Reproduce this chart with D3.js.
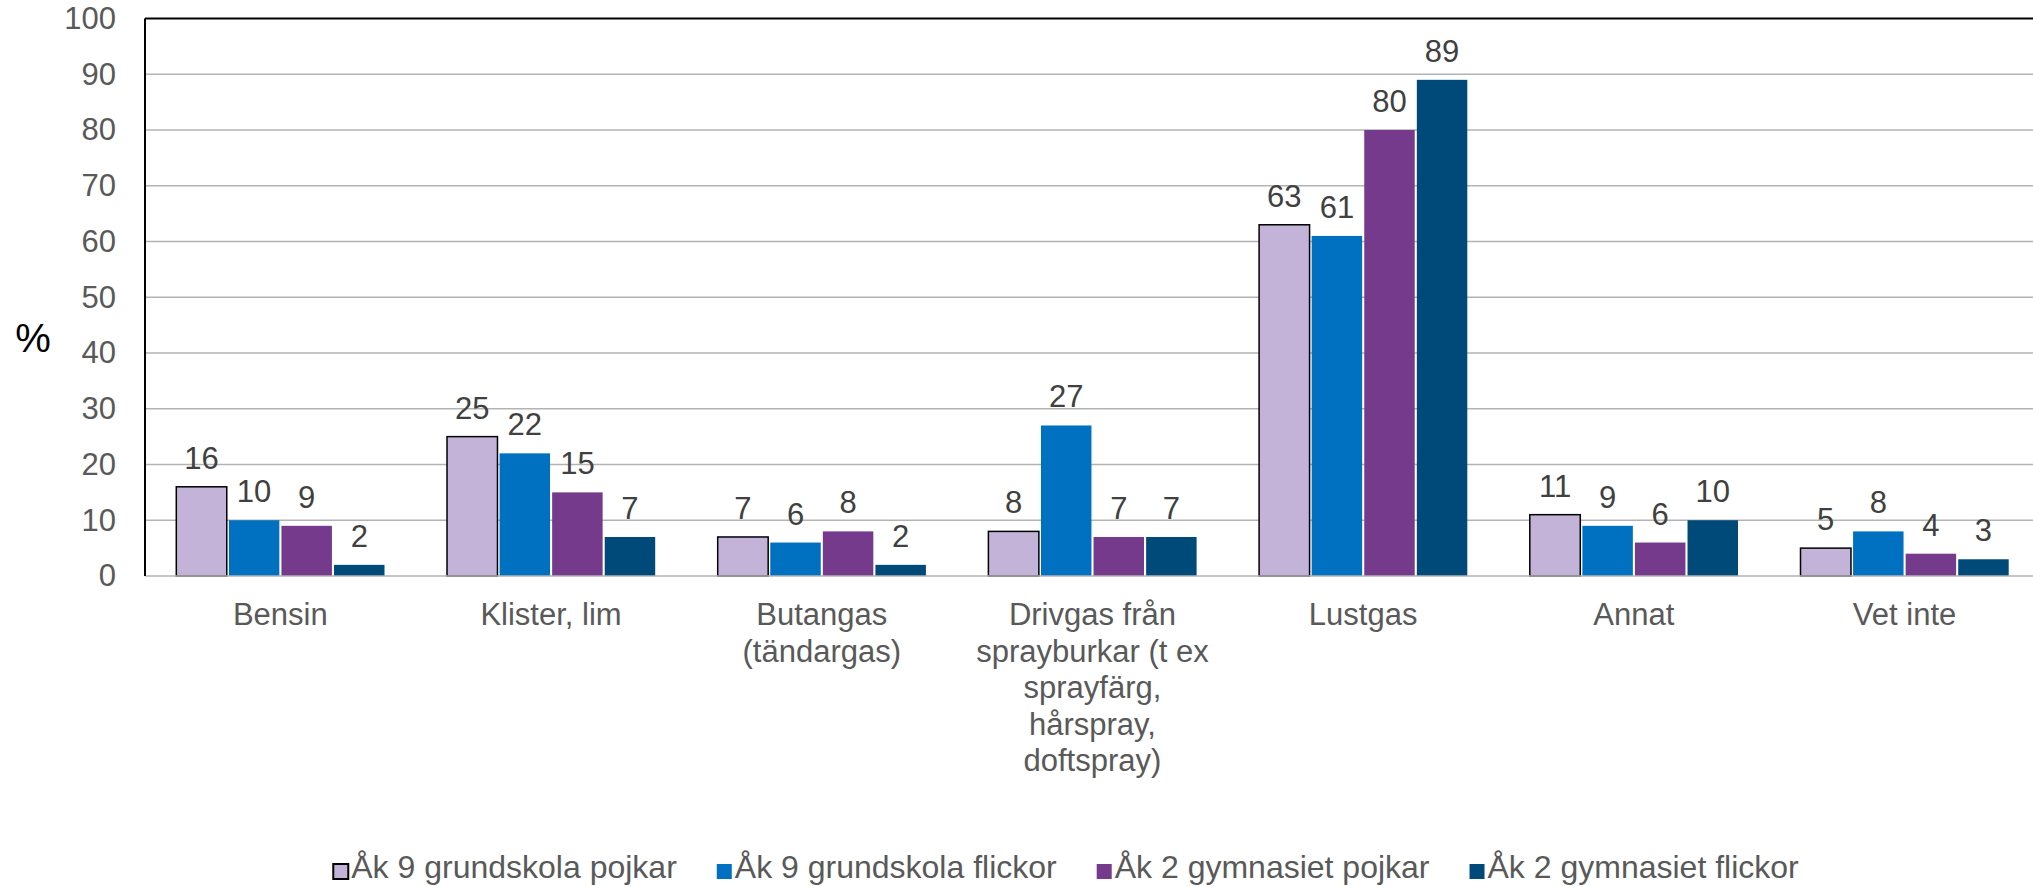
<!DOCTYPE html>
<html>
<head>
<meta charset="utf-8">
<script src="https://cdn.jsdelivr.net/npm/d3@7"></script>
<style>
  html, body { margin: 0; padding: 0; background: #fff; }
  svg { display: block; font-family: Arial, 'Liberation Sans', sans-serif; }
</style>
</head>
<body>
<svg id="chart" width="2033" height="886"></svg>
<script>
// DATA
const categories = ['Bensin', 'Klister, lim', 'Butangas\n(tändargas)',
  'Drivgas från\nsprayburkar (t ex\nsprayfärg,\nhårspray,\ndoftspray)',
  'Lustgas', 'Annat', 'Vet inte'];
const seriesNames = ['Åk 9 grundskola pojkar', 'Åk 9 grundskola flickor',
  'Åk 2 gymnasiet pojkar', 'Åk 2 gymnasiet flickor'];
const ak9Pojkar = [16, 25, 7, 8, 63, 11, 5];
const ak9Flickor = [10, 22, 6, 27, 61, 9, 8];
const ak2Pojkar = [9, 15, 8, 7, 80, 6, 4];
const ak2Flickor = [2, 7, 2, 7, 89, 10, 3];
const yTicks = [0, 10, 20, 30, 40, 50, 60, 70, 80, 90, 100];

const seriesValues = [ak9Pojkar, ak9Flickor, ak2Pojkar, ak2Flickor];
const colors = ['#C3B3D8', '#0070C0', '#763A8C', '#004A7A'];

// SETUP
const svg = d3.select('#chart');
const plotLeft = 145, plotTop = 18.5, plotBottom = 576, band = 270.7;
const fontSize = 31;

const x0 = d3.scaleBand().domain(categories).range([plotLeft, plotLeft + band * categories.length]);
const x1 = d3.scaleBand().domain(seriesNames).range([31.3, 239.5]).paddingInner(0.04);
const y = d3.scaleLinear().domain([0, 100]).range([plotBottom, plotTop]);

// GRID
const grid = svg.append('g');
grid.selectAll('line')
  .data(yTicks.filter(d => d > 0 && d < 100))
  .enter()
  .append('line')
  .attr('x1', plotLeft).attr('x2', 2033)
  .attr('y1', d => y(d)).attr('y2', d => y(d))
  .attr('stroke', '#B3B3B3').attr('stroke-width', 1.5);

// Y AXIS
const yAxis = svg.append('g')
  .attr('transform', 'translate(' + plotLeft + ',0)')
  .call(d3.axisLeft(y).tickValues(yTicks).tickSize(0).tickPadding(29));
yAxis.select('.domain').remove();
yAxis.selectAll('text')
  .attr('fill', '#595959')
  .style('font-size', fontSize + 'px')
  .style('font-family', 'Arial, "Liberation Sans", sans-serif');

// BARS
const groups = svg.append('g').selectAll('g')
  .data(categories)
  .enter()
  .append('g')
  .attr('transform', d => 'translate(' + x0(d) + ',0)');

groups.each(function (cat, ci) {
  const g = d3.select(this);
  seriesNames.forEach((s, si) => {
    const v = seriesValues[si][ci];
    g.append('rect')
      .attr('x', x1(s))
      .attr('y', y(v))
      .attr('width', x1.bandwidth())
      .attr('height', y(0) - y(v))
      .attr('fill', colors[si])
      .attr('stroke', si === 0 ? '#000' : 'none')
      .attr('stroke-width', 1.5);
    g.append('text')
      .attr('x', x1(s) + x1.bandwidth() / 2)
      .attr('y', y(v) - 18)
      .attr('text-anchor', 'middle')
      .attr('fill', '#404040')
      .style('font-size', fontSize + 'px')
      .text(v);
  });
});

// AXIS LINES
svg.append('line')
  .attr('x1', plotLeft).attr('x2', 2033)
  .attr('y1', y(0)).attr('y2', y(0))
  .attr('stroke', '#B3B3B3').attr('stroke-width', 1.5);
svg.append('line')
  .attr('x1', plotLeft).attr('x2', 2033)
  .attr('y1', plotTop).attr('y2', plotTop)
  .attr('stroke', '#000').attr('stroke-width', 2);
svg.append('line')
  .attr('x1', plotLeft).attr('x2', plotLeft)
  .attr('y1', plotTop).attr('y2', plotBottom)
  .attr('stroke', '#000').attr('stroke-width', 2);

// X LABELS
const xl = svg.append('g').selectAll('text')
  .data(categories)
  .enter()
  .append('text')
  .attr('text-anchor', 'middle')
  .attr('fill', '#595959')
  .style('font-size', fontSize + 'px');
xl.each(function (d) {
  const t = d3.select(this);
  d.split('\n').forEach((line, i) => {
    t.append('tspan')
      .attr('x', x0(d) + band / 2)
      .attr('y', 625 + i * 36.5)
      .text(line);
  });
});

// Y LABEL
svg.append('text')
  .attr('x', 33).attr('y', 352)
  .attr('text-anchor', 'middle')
  .attr('fill', '#000')
  .style('font-size', '40px')
  .text('%');

// LEGEND
const legend = svg.append('g');
let lx = 0;
const legendGap = 40;
seriesNames.forEach((s, i) => {
  const item = legend.append('g').attr('transform', 'translate(' + lx + ',0)');
  item.append('rect')
    .attr('x', 0).attr('y', 864)
    .attr('width', 15).attr('height', 15)
    .attr('fill', colors[i])
    .attr('stroke', i === 0 ? '#000' : 'none')
    .attr('stroke-width', 2);
  const txt = item.append('text')
    .attr('x', 18).attr('y', 878)
    .attr('fill', '#595959')
    .style('font-size', '32px')
    .text(s);
  lx += 18 + txt.node().getComputedTextLength() + legendGap;
});
const legendWidth = lx - legendGap;
legend.attr('transform', 'translate(' + (1066 - legendWidth / 2) + ',0)');
</script>
</body>
</html>
